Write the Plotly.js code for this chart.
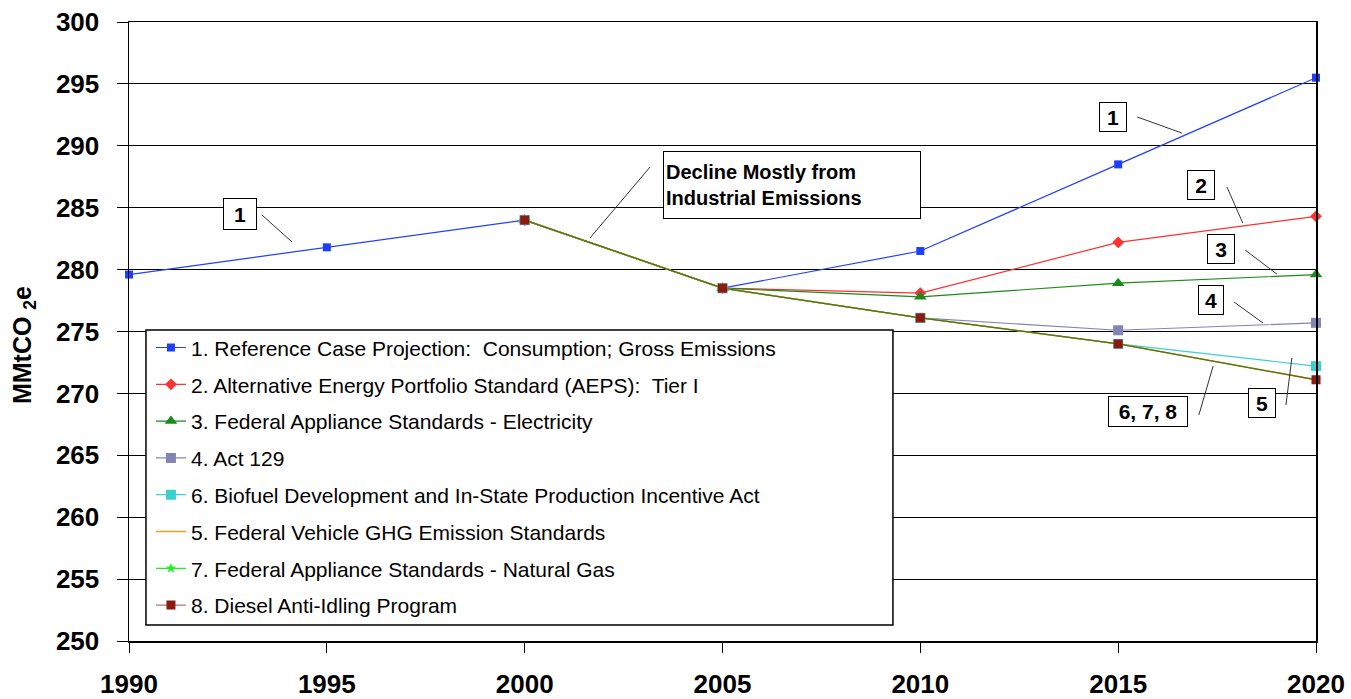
<!DOCTYPE html>
<html>
<head>
<meta charset="utf-8">
<script src="https://cdn.plot.ly/plotly-3.0.1.min.js"></script>
<style>html,body{margin:0;padding:0;background:#fff;}#chart{width:1351px;height:699px;}</style>
</head>
<body>
<div id="chart"></div>
<script>
const years = [1990, 1995, 2000, 2005, 2010, 2015, 2020];
const yearsProj = [2000, 2005, 2010, 2015, 2020];

const s1 = [279.6, 281.8, 284.0, 278.5, 281.5, 288.5, 295.5];
const s2 = [284.0, 278.5, 278.1, 282.2, 284.3];
const s3 = [284.0, 278.5, 277.8, 278.9, 279.6];
const s4 = [284.0, 278.5, 276.1, 275.1, 275.7];
const s6 = [284.0, 278.5, 276.1, 274.0, 272.2];
const s5 = [284.0, 278.5, 276.1, 274.0, 271.1];
const s7 = [284.0, 278.5, 276.1, 274.0, 271.1];
const s8 = [284.0, 278.5, 276.1, 274.0, 271.1];

const names = [
  "1. Reference Case Projection:  Consumption; Gross Emissions",
  "2. Alternative Energy Portfolio Standard (AEPS):  Tier I",
  "3. Federal Appliance Standards - Electricity",
  "4. Act 129",
  "6. Biofuel Development and In-State Production Incentive Act",
  "5. Federal Vehicle GHG Emission Standards",
  "7. Federal Appliance Standards - Natural Gas",
  "8. Diesel Anti-Idling Program"
];
const yTicks = [250, 255, 260, 265, 270, 275, 280, 285, 290, 295, 300];
const xTicks = [1990, 1995, 2000, 2005, 2010, 2015, 2020];

function tr(x, y, i, color, symbol, size, lw, lineColor) {
  const t = {
    x: x, y: y, name: names[i], type: 'scatter',
    mode: symbol ? 'lines+markers' : 'lines',
    line: {color: lineColor || color, width: lw || 1.2},
    legendgroup: 'g' + i, cliponaxis: false
  };
  if (symbol) t.marker = {symbol: symbol, size: size, color: color};
  return t;
}

const data = [
  tr(years, s1, 0, '#1f3fff', 'square', 8),
  tr(yearsProj, s2, 1, '#ff3030', 'diamond', 9),
  tr(yearsProj, s3, 2, '#1a8a1a', 'triangle-up', 11),
  tr(yearsProj, s4, 3, '#8484b4', 'square', 10),
  tr(yearsProj, s6, 4, '#3cd0d0', 'square', 10),
  tr(yearsProj, s5, 5, '#f0a020', null, 0, 1.5),
  tr(yearsProj, s7, 6, '#22ee22', 'star', 8),
  tr(yearsProj, s8, 7, '#8b1a10', 'square', 9, 1.3, 'rgba(139,26,16,0.62)')
];

const lineCol = '#333333';
function seg(x0, y0, x1, y1) {
  return {type: 'line', xref: 'x', yref: 'y', x0: x0, y0: y0, x1: x1, y1: y1,
          line: {color: lineCol, width: 1}};
}
const shapes = [
  seg(1993.36, 284.41, 1994.12, 282.23),
  seg(2003.17, 288.29, 2001.65, 282.55),
  seg(2015.48, 292.33, 2016.61, 291.03),
  seg(2017.75, 286.67, 2018.15, 283.76),
  seg(2018.21, 281.58, 2019.01, 279.64),
  seg(2017.93, 277.38, 2018.66, 275.69),
  seg(2017.04, 268.26, 2017.40, 272.21),
  seg(2019.24, 269.06, 2019.39, 272.86),
  {type: 'rect', xref: 'paper', yref: 'paper', x0: 0.0143, x1: 0.6436, y0: 0.0258, y1: 0.5024,
   fillcolor: '#ffffff', line: {color: '#000000', width: 1.5}, layer: 'above'}
];

function box(text, x, y, w, h, size) {
  return {text: text, x: x, y: y, xref: 'x', yref: 'y', showarrow: false,
          font: {family: 'Arial, Liberation Sans', size: size || 21, color: '#000'},
          bordercolor: '#000', borderwidth: 1, borderpad: 2, bgcolor: '#ffffff',
          width: w, height: h, align: 'center', valign: 'middle'};
}
const decline = box('<b>Decline Mostly from<br>Industrial Emissions</b>', 2006.76, 286.83, 252, 62, 20);
decline.align = 'left';
const annotations = [
  box('<b>1</b>', 1992.81, 284.49, 28, 26),
  box('<b>1</b>', 2014.87, 292.33, 22, 24),
  box('<b>2</b>', 2017.09, 286.83, 22, 24),
  box('<b>3</b>', 2017.60, 281.66, 22, 24),
  box('<b>4</b>', 2017.35, 277.54, 20, 24),
  box('<b>6, 7, 8</b>', 2015.75, 268.50, 74, 25),
  box('<b>5</b>', 2018.63, 269.22, 22, 24),
  decline,
  {text: '<b>MMtCO <sub>2</sub>e</b>', xref: 'paper', yref: 'paper', x: -0.0885, y: 0.478,
   showarrow: false, textangle: -90, font: {family: 'Arial, Liberation Sans', size: 25, color: '#000'},
   xanchor: 'center', yanchor: 'middle'}
];

const layout = {
  width: 1351, height: 699,
  margin: {l: 129, r: 35, t: 22, b: 58},
  paper_bgcolor: '#ffffff', plot_bgcolor: '#ffffff',
  showlegend: true,
  legend: {x: 0.0185, y: 0.5067, xanchor: 'left', yanchor: 'top',
           bgcolor: 'rgba(0,0,0,0)', borderwidth: 0, tracegroupgap: 6.5,
           font: {family: 'Arial, Liberation Sans', size: 21, color: '#000'}},
  xaxis: {range: [1990, 2020], tickvals: xTicks, ticktext: xTicks.map(String),
          showgrid: false, zeroline: false, showline: true, mirror: true,
          linecolor: '#000', linewidth: 1.5, ticks: 'outside', ticklen: 10, tickcolor: '#000',
          ticklabelstandoff: 9,
          tickfont: {family: 'Arial, Liberation Sans', size: 26, color: '#000', weight: 'bold'}},
  yaxis: {range: [250, 300], tickvals: yTicks, ticktext: yTicks.map(String),
          showgrid: true, gridcolor: '#000', gridwidth: 1, zeroline: false,
          showline: true, mirror: true, linecolor: '#000', linewidth: 1.5,
          ticks: 'outside', ticklen: 11, tickcolor: '#000', ticklabelstandoff: 12,
          tickfont: {family: 'Arial, Liberation Sans', size: 26, color: '#000', weight: 'bold'}},
  shapes: shapes,
  annotations: annotations
};

Plotly.newPlot('chart', data, layout, {displayModeBar: false, staticPlot: true});
</script>
</body>
</html>
